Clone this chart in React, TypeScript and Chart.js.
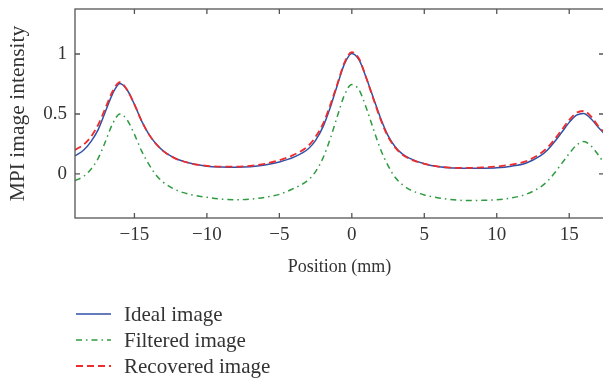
import { useEffect, useRef } from "react";
import { Chart, registerables } from "chart.js";

Chart.register(...registerables);

const positions = [
  -19.1, -18.5, -18, -17.5, -17, -16.5, -16, -15.5, -15, -14.5, -14, -13.5, -13, -12.5, -12, -11, -10, -9, -8, -7, -6, -5, -4,
  -3, -2.5, -2, -1.5, -1, -0.5, 0, 0.5, 1, 1.5, 2, 2.5, 3, 3.5, 4, 5, 6, 7, 8, 9, 10, 11, 12, 13, 13.5, 14, 14.5, 15,
  15.5, 16, 16.5, 17, 17.4,
];
const idealImage = [
  0.15, 0.2, 0.27, 0.37, 0.52, 0.67, 0.755, 0.7, 0.58, 0.44, 0.33, 0.25, 0.19, 0.15, 0.12, 0.085, 0.065, 0.058, 0.056, 0.06,
  0.075, 0.1, 0.14, 0.21, 0.28, 0.39, 0.55, 0.74, 0.92, 1.005, 0.95, 0.8, 0.63, 0.46, 0.32, 0.225, 0.165, 0.13, 0.085, 0.06,
  0.05, 0.047, 0.048, 0.052, 0.065, 0.09, 0.15, 0.2, 0.27, 0.35, 0.43, 0.49, 0.505, 0.46, 0.39, 0.34,
];
const filteredImage = [
  -0.055, -0.02, 0.04, 0.13, 0.27, 0.42, 0.5, 0.45, 0.33, 0.19, 0.08, -0.01, -0.07, -0.11, -0.14, -0.175, -0.195, -0.21,
  -0.215, -0.21, -0.195, -0.17, -0.12, -0.05, 0.02, 0.13, 0.29, 0.48, 0.66, 0.745, 0.7, 0.55, 0.37, 0.2, 0.07, -0.03, -0.09,
  -0.13, -0.175, -0.2, -0.215, -0.222, -0.22, -0.215, -0.2, -0.17, -0.11, -0.06, 0.01, 0.09, 0.17, 0.24, 0.27, 0.235, 0.16,
  0.09,
];
const recoveredImage = [
  0.2, 0.245, 0.31, 0.41, 0.55, 0.69, 0.765, 0.7, 0.58, 0.44, 0.33, 0.25, 0.19, 0.15, 0.12, 0.085, 0.068, 0.062, 0.062,
  0.068, 0.085, 0.115, 0.16, 0.235, 0.31, 0.415, 0.57, 0.75, 0.93, 1.015, 0.96, 0.8, 0.62, 0.45, 0.31, 0.22, 0.16, 0.125,
  0.085, 0.062, 0.052, 0.05, 0.055, 0.062, 0.078, 0.105, 0.17, 0.22, 0.29, 0.37, 0.45, 0.51, 0.525, 0.48, 0.4, 0.35,
];
const seriesNames = ["Ideal image", "Filtered image", "Recovered image"];
const xTickValues = [-15, -10, -5, 0, 5, 10, 15];
const xTickLabels = ["\u221215", "\u221210", "\u22125", "0", "5", "10", "15"];
const yTickValues = [0, 0.5, 1];
const yTickLabels = ["0", "0.5", "1"];

const FONT = "'Liberation Serif', 'Times New Roman', serif";
const TEXT = "#333333";
const AXIS = "#555555";

const framePlugin = {
  id: "frameAndLegend",
  afterDraw(chart: any) {
    const { ctx, chartArea } = chart;
    const { left, right, top, bottom } = chartArea;
    const xs = chart.scales.x;
    const ys = chart.scales.y;
    ctx.save();
    ctx.strokeStyle = AXIS;
    ctx.lineWidth = 1.3;
    ctx.setLineDash([]);
    ctx.strokeRect(left, top, right - left, bottom - top);
    const tl = 5;
    ctx.beginPath();
    for (const v of xTickValues) {
      const px = xs.getPixelForValue(v);
      ctx.moveTo(px, bottom);
      ctx.lineTo(px, bottom - tl);
      ctx.moveTo(px, top);
      ctx.lineTo(px, top + tl);
    }
    for (const v of yTickValues) {
      const py = ys.getPixelForValue(v);
      ctx.moveTo(left, py);
      ctx.lineTo(left + tl, py);
      ctx.moveTo(right, py);
      ctx.lineTo(right - tl, py);
    }
    ctx.stroke();

    // legend
    const rows = [314, 340, 366];
    const legendOrder = [1, 2, 0]; // dataset indices for Ideal, Filtered, Recovered
    ctx.font = `21px ${FONT}`;
    ctx.textBaseline = "middle";
    ctx.textAlign = "left";
    legendOrder.forEach((di, r) => {
      const ds = chart.data.datasets[di];
      const y = rows[r];
      ctx.beginPath();
      ctx.strokeStyle = ds.borderColor;
      ctx.lineWidth = ds.borderWidth;
      ctx.setLineDash(ds.borderDash || []);
      ctx.moveTo(76, y);
      ctx.lineTo(111, y);
      ctx.stroke();
      ctx.setLineDash([]);
      ctx.fillStyle = TEXT;
      ctx.fillText(ds.label, 124, y + 1);
    });
    ctx.restore();
  },
};

export default function App() {
  const ref = useRef<HTMLCanvasElement | null>(null);
  useEffect(() => {
    if (!ref.current) return;
    const mk = (ys: number[]) => positions.map((x, i) => ({ x, y: ys[i] }));
    const chart = new Chart(ref.current, {
      type: "line",
      data: {
        datasets: [
          {
            label: seriesNames[2],
            data: mk(recoveredImage),
            borderColor: "#ee2c2c",
            borderWidth: 1.8,
            borderDash: [7, 4],
            pointRadius: 0,
            cubicInterpolationMode: "monotone",
            order: 0,
          },
          {
            label: seriesNames[0],
            data: mk(idealImage),
            borderColor: "#3050a8",
            borderWidth: 1.5,
            pointRadius: 0,
            cubicInterpolationMode: "monotone",
            order: 1,
          },
          {
            label: seriesNames[1],
            data: mk(filteredImage),
            borderColor: "#2f9a3f",
            borderWidth: 1.5,
            borderDash: [6, 4, 1.5, 4],
            pointRadius: 0,
            cubicInterpolationMode: "monotone",
            order: 2,
          },
        ],
      },
      options: {
        responsive: false,
        devicePixelRatio: 1,
        animation: false,
        layout: { padding: { left: 0, top: 9, right: 8, bottom: 95 } },
        plugins: { legend: { display: false }, tooltip: { enabled: false } },
        scales: {
          x: {
            type: "linear",
            position: "bottom",
            min: -19.1,
            max: 17.4,
            grid: { display: false, drawTicks: false },
            border: { display: false },
            afterBuildTicks: (s: any) => {
              s.ticks = xTickValues.map((v) => ({ value: v }));
            },
            afterFit: (s: any) => {
              s.height = 70;
              s.paddingLeft = 0;
              s.paddingRight = 0;
            },
            ticks: {
              autoSkip: false,
              maxRotation: 0,
              padding: 6,
              color: TEXT,
              font: { family: FONT, size: 19 },
              callback: (_v: any, i: number) => xTickLabels[i],
            },
            title: {
              display: true,
              text: "Position (mm)",
              color: TEXT,
              font: { family: FONT, size: 18 },
              padding: { top: 0, bottom: 10 },
            },
          },
          y: {
            type: "linear",
            min: -0.367,
            max: 1.375,
            grid: { display: false, drawTicks: false },
            border: { display: false },
            afterBuildTicks: (s: any) => {
              s.ticks = yTickValues.map((v) => ({ value: v }));
            },
            afterFit: (s: any) => {
              s.width = 75;
              s.paddingTop = 0;
              s.paddingBottom = 0;
            },
            ticks: {
              autoSkip: false,
              padding: 8,
              color: TEXT,
              font: { family: FONT, size: 19 },
              callback: (_v: any, i: number) => yTickLabels[i],
            },
            title: {
              display: true,
              text: "MPI image intensity",
              color: TEXT,
              font: { family: FONT, size: 21.5 },
              padding: { top: 5, bottom: 0 },
            },
          },
        },
      },
      plugins: [framePlugin],
    });
    return () => chart.destroy();
  }, []);
  return (
    <div
      style={{
        position: "fixed",
        left: 0,
        top: 0,
        width: 603,
        height: 383,
        overflow: "hidden",
        background: "#ffffff",
      }}
    >
      <canvas ref={ref} width={612} height={383} style={{ display: "block", width: 612, height: 383 }} />
    </div>
  );
}
